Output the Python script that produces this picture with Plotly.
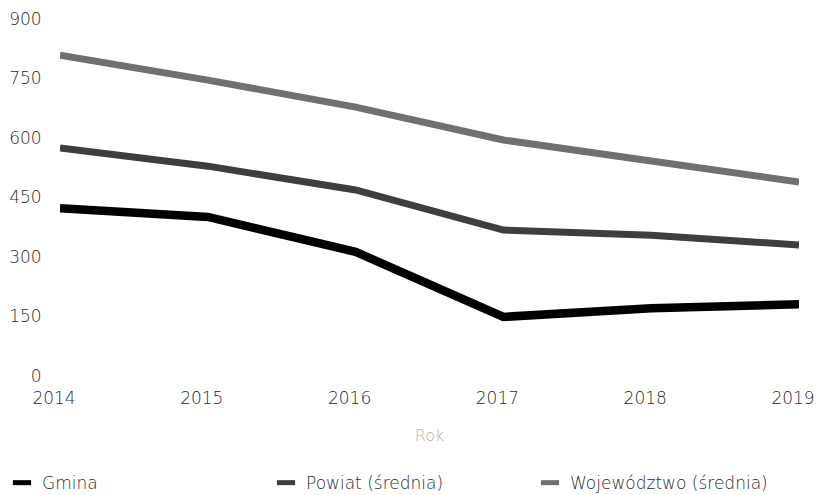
import plotly.graph_objects as go

years = [2014, 2015, 2016, 2017, 2018, 2019]
gmina = [423, 401, 313, 149, 171, 181]
powiat = [575, 529, 469, 368, 355, 330]
wojewodztwo = [809, 746, 678, 595, 542, 489]

names = ["Gmina", "Powiat (średnia)", "Województwo (średnia)"]
series = [gmina, powiat, wojewodztwo]
colors = ["#000000", "#3e3e3e", "#707070"]
widths = [8.5, 7, 7]

y_ticks = [0, 150, 300, 450, 600, 750, 900]

FONT = "DejaVu Sans"

# page body has an 8px default margin; size the figure so it ends at the window edge
W, H = 814, 487

fig = go.Figure()
# draw upper lines first so Gmina is on top
for name, vals, col, w in reversed(list(zip(names, series, colors, widths))):
    fig.add_trace(go.Scatter(x=years, y=vals, mode="lines", name=name,
                             line=dict(color=col, width=w), showlegend=False,
                             hoverinfo="x+y+name"))

legend_ids = ["legend", "legend2", "legend3"]
legend_x = [-0.0785, 0.2788, 0.636]
for name, col, lid in zip(names, colors, legend_ids):
    fig.add_trace(go.Scatter(x=[None], y=[None], mode="markers", name=name,
                             marker=dict(symbol="line-ew", size=13,
                                         line=dict(color=col, width=8)),
                             showlegend=True, legend=lid))

leg_common = dict(orientation="h", xanchor="left", y=-0.30, yanchor="middle",
                  itemwidth=30,
                  font=dict(family=FONT, size=17, color="#2a2a2a", weight=200),
                  bgcolor="rgba(0,0,0,0)")

fig.update_layout(
    width=W, height=H,
    margin=dict(l=52, r=23, t=11, b=119, autoexpand=False),
    paper_bgcolor="white", plot_bgcolor="white",
    font=dict(family=FONT, size=17, color="#2a2a2a", weight=200),
    showlegend=True,
    legend=dict(x=legend_x[0], **leg_common),
    legend2=dict(x=legend_x[1], **leg_common),
    legend3=dict(x=legend_x[2], **leg_common),
)
fig.update_xaxes(range=[2014, 2019], tickvals=years, ticktext=[str(y) for y in years],
                 showgrid=False, zeroline=False, showline=False, automargin=False,
                 ticks="outside", ticklen=7, tickcolor="white", ticklabelshift=-6,
                 ticklabeloverflow="allow",
                 title=dict(text="Rok", font=dict(family=FONT, size=16, color="#b0b0b0", weight=200),
                            standoff=22))
fig.update_yaxes(range=[0, 900], tickvals=y_ticks, showgrid=False, zeroline=False,
                 showline=False, automargin=False, ticks="outside", ticklen=14,
                 tickcolor="white", ticklabeloverflow="allow")

fig.write_html("out.html")
